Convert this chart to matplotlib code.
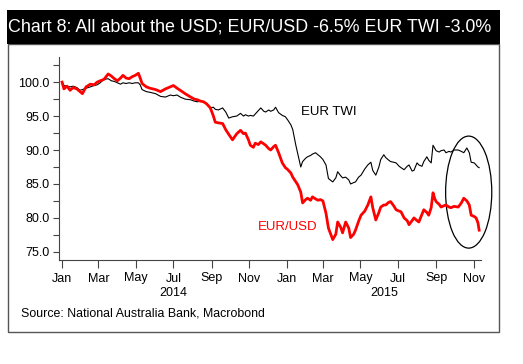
import numpy as np
import pandas as pd
import matplotlib
matplotlib.use("Agg")
import matplotlib.pyplot as plt
import matplotlib.dates as mdates
from matplotlib.patches import Rectangle, Ellipse

plt.rcParams['font.family'] = ['Liberation Sans', 'DejaVu Sans']

# days since 2014-01-01
days = [0, 3, 8, 13, 18, 24, 29, 33, 39, 46, 52, 57, 62, 68, 75, 80, 85, 90, 95, 99,
        104, 109, 114, 119, 124, 127, 130, 137, 143, 152, 160, 168, 176, 181, 187, 192,
        200, 209, 215, 220, 225, 230, 235, 241, 246, 249, 254, 261, 266, 271, 277, 284,
        290, 295, 298, 303, 306, 311, 314, 319, 323, 328, 331, 336, 339, 344, 347, 352,
        358, 363, 367, 372, 375, 380, 383, 388, 391, 396, 399, 404, 407, 412, 416, 420,
        424, 429, 433, 440, 445, 448, 453, 456, 461, 466, 469, 474, 477, 482, 486, 492,
        497, 502, 505, 510, 515, 518, 523, 526, 531, 534, 539, 543, 548, 551, 556, 561,
        564, 569, 572, 577, 580, 585, 588, 593, 596, 600, 603, 606, 608, 613, 616, 621,
        624, 629, 632, 637, 644, 649, 653, 658, 662, 665, 670, 673, 676, 678]

eur_usd = [100.0, 99.0, 99.4, 98.8, 99.2, 99.0, 98.6, 98.3, 99.3, 99.7, 99.6, 100.0, 100.2,
           100.4, 101.2, 100.9, 100.5, 100.2, 100.6, 101.0, 100.6, 100.5, 100.8, 101.0, 101.3,
           100.6, 99.8, 99.3, 99.1, 98.9, 98.6, 99.0, 99.3, 99.5, 99.1, 98.8, 98.3, 97.8, 97.5,
           97.4, 97.2, 97.1, 96.8, 96.2, 95.0, 94.1, 94.0, 93.9, 93.0, 92.3, 91.5, 92.4, 92.9,
           92.4, 92.5, 91.5, 90.7, 90.4, 91.0, 90.8, 91.2, 90.9, 90.7, 90.2, 90.0, 90.5, 90.7,
           89.6, 88.1, 87.4, 87.1, 86.6, 86.0, 85.3, 84.9, 83.8, 82.2, 82.7, 82.9, 82.6, 83.1,
           82.8, 82.6, 82.7, 82.5, 80.7, 78.5, 76.8, 77.6, 79.4, 78.6, 77.8, 79.4, 78.5, 77.1,
           77.6, 78.2, 79.5, 80.4, 81.0, 81.9, 83.1, 81.5, 79.7, 80.8, 81.6, 81.9, 81.9, 82.3,
           82.4, 81.8, 81.2, 81.0, 80.9, 80.0, 79.6, 79.0, 79.6, 80.0, 79.6, 79.4, 80.5, 81.2,
           80.8, 80.4, 81.5, 83.7, 82.8, 82.4, 82.0, 81.6, 81.8, 81.9, 81.6, 81.5, 81.7, 81.6,
           82.2, 82.9, 82.5, 81.9, 80.4, 80.2, 80.0, 79.3, 78.2]

eur_twi = [100.0, 99.5, 99.4, 99.3, 99.4, 99.2, 98.8, 98.9, 99.1, 99.3, 99.5, 99.6, 99.9,
           100.4, 100.5, 100.2, 100.1, 99.9, 99.7, 99.9, 99.8, 99.9, 99.8, 99.9, 99.9, 99.6,
           98.9, 98.6, 98.5, 98.3, 97.9, 97.8, 98.1, 98.0, 98.1, 97.8, 97.5, 97.4, 97.2, 97.1,
           97.2, 97.1, 96.8, 96.2, 96.3, 96.0, 95.9, 96.2, 95.6, 94.7, 94.9, 95.0, 95.4, 95.0,
           95.2, 95.0, 95.1, 95.0, 95.3, 95.8, 96.2, 95.7, 95.6, 95.9, 95.7, 95.9, 96.3, 95.5,
           95.1, 94.9, 94.4, 93.7, 93.0, 90.7, 89.5, 87.5, 88.3, 88.8, 89.0, 89.2, 89.4, 89.6,
           89.3, 89.0, 88.6, 87.8, 85.8, 85.3, 85.9, 86.8, 86.2, 85.9, 86.0, 85.6, 85.0, 85.2,
           85.3, 86.0, 86.3, 87.2, 87.8, 88.2, 87.0, 86.3, 87.5, 88.6, 89.3, 88.9, 88.5, 88.3,
           88.2, 88.1, 87.6, 87.4, 87.1, 87.6, 87.8, 86.9, 87.0, 88.1, 87.8, 87.6, 88.3, 89.0,
           88.5, 88.1, 90.7, 90.2, 89.9, 89.7, 89.9, 90.0, 89.6, 89.8, 89.7, 90.0, 90.0, 89.8,
           89.6, 90.3, 89.6, 88.2, 88.1, 87.8, 87.5, 87.4]

title = "Chart 8: All about the USD; EUR/USD -6.5% EUR TWI -3.0%"
source = "Source: National Australia Bank, Macrobond"

dates = pd.Timestamp("2014-01-01") + pd.to_timedelta(days, unit="D")

W, H = 523, 364
fig = plt.figure(figsize=(W / 100, H / 100), dpi=100)

# outer box and title bar
fig.patches.append(Rectangle((8 / W, 1 - 332 / H), 491 / W, 288 / H, transform=fig.transFigure,
                             facecolor="none", edgecolor="#555555", lw=1.0, zorder=0))
fig.patches.append(Rectangle((7 / W, 1 - 44 / H), 493 / W, 34 / H, transform=fig.transFigure,
                             facecolor="black", edgecolor="none", zorder=1))
fig.text(8 / W, 1 - 27 / H, title, color="white", fontsize=12.85, va="center", ha="left")

ax = fig.add_axes([59 / W, 1 - 260 / H, 422 / W, 203 / H])
ax.patch.set_alpha(0)
ax.plot(dates, eur_twi, color="black", lw=0.8)
ax.plot(dates, eur_usd, color="#ff0000", lw=2.0)

ax.set_ylim(73.8, 103.7)
ax.set_xlim(pd.Timestamp("2013-12-27"), pd.Timestamp("2015-11-13"))
ax.set_yticks([75, 80, 85, 90, 95, 100])
ax.set_yticks(np.arange(77.5, 103.7, 5), minor=True)
ax.yaxis.set_major_formatter(matplotlib.ticker.FormatStrFormatter("%.1f"))

ax.xaxis.set_major_locator(mdates.MonthLocator(bymonth=[1, 3, 5, 7, 9, 11]))
ax.xaxis.set_major_formatter(mdates.DateFormatter("%b"))
ax.tick_params(axis="x", length=3, width=0.8, color="#444444", labelsize=9, pad=6)
ax.tick_params(axis="y", which="both", length=4, width=0.8, color="#444444", labelsize=9, pad=3)
for t in ax.xaxis.get_major_ticks():
    if mdates.num2date(t.get_loc()).month == 1:
        t.tick1line.set_markersize(6)

for s in ["top", "right"]:
    ax.spines[s].set_visible(False)
for s in ["left", "bottom"]:
    ax.spines[s].set_color("#444444")
    ax.spines[s].set_linewidth(0.8)

trans = matplotlib.transforms.blended_transform_factory(ax.transData, ax.transAxes)
ax.text(pd.Timestamp("2014-07-01"), -0.135, "2014", transform=trans, ha="center", va="top", fontsize=9)
ax.text(pd.Timestamp("2015-06-09"), -0.135, "2015", transform=trans, ha="center", va="top", fontsize=9)

ax.text(pd.Timestamp("2015-01-24"), 95.6, "EUR TWI", color="black", fontsize=9.5, va="center")
ax.text(pd.Timestamp("2014-11-15"), 78.7, "EUR/USD", color="#ff0000", fontsize=9.5, va="center")

ax.add_patch(Ellipse((mdates.date2num(pd.Timestamp("2015-10-24")), 83.8), 75, 16.5,
                     fill=False, edgecolor="black", lw=0.9, clip_on=False))

fig.text(21 / W, 1 - 313 / H, source, fontsize=8.9, va="center", ha="left")

fig.savefig("out.png", dpi=100)
